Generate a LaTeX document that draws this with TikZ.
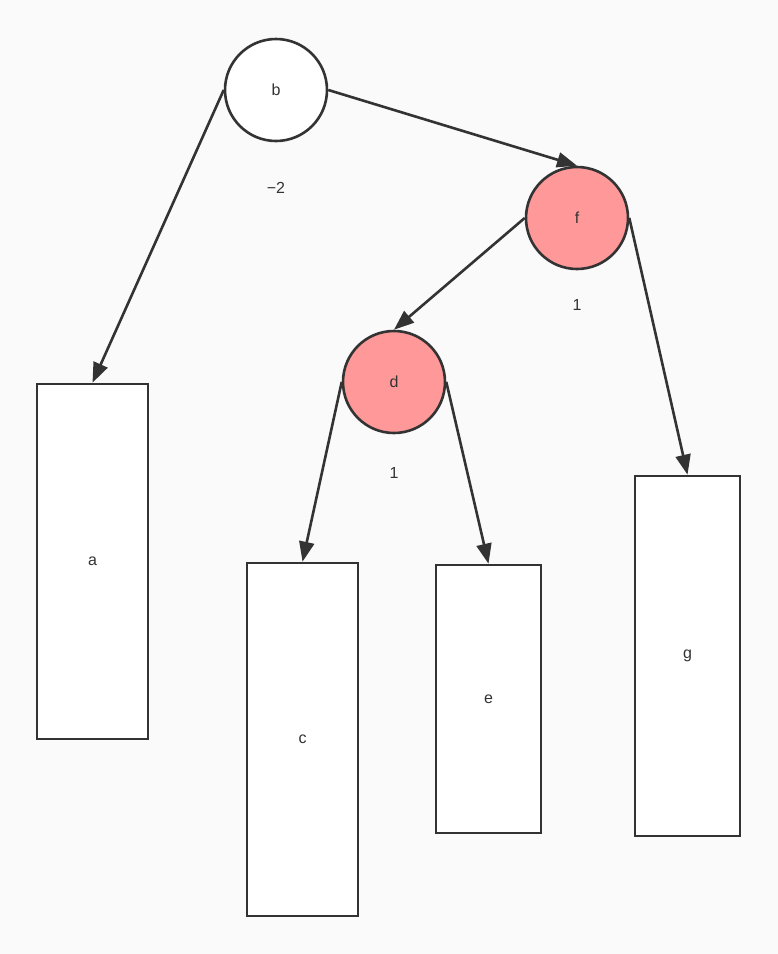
\documentclass[tikz,border=0pt]{standalone}
\usepackage{fontspec}
\setmainfont{Liberation Sans}
\usetikzlibrary{arrows.meta}
\definecolor{rosa}{HTML}{FF9999}
\definecolor{trazo}{HTML}{333333}
\definecolor{fondo}{HTML}{FAFAFA}
\begin{document}
\begin{tikzpicture}[x=1pt, y=-1pt,
    nodo/.style={circle, draw=trazo, fill=white, line width=2.6pt, minimum size=102pt,
        inner sep=0pt, text=trazo, font=\fontsize{16}{18}\selectfont},
    hoja/.style={rectangle, draw=trazo, fill=white, line width=2.6pt, inner sep=0pt,
        text=trazo, font=\fontsize{16}{18}\selectfont},
    peso/.style={text=trazo, font=\fontsize{16}{18}\selectfont},
    flecha/.style={draw=trazo, line width=2.6pt, -{Triangle[length=20pt, width=15pt]}}]

    % Fondo y margenes
    \fill[fondo] (0,0) rectangle (778,954);
    \useasboundingbox (0,0) rectangle (778,954);

    % Nodos del arbol
    \node[nodo] (b) at (276,90) {b};
    \node[nodo, fill=rosa] (f) at (577,218) {f};
    \node[nodo, fill=rosa] (d) at (394,382) {d};

    % Subarboles (hojas)
    \node[hoja, minimum width=111pt, minimum height=355pt] (a) at (92.5,561.5) {a};
    \node[hoja, minimum width=111pt, minimum height=353pt] (c) at (302.5,739.5) {c};
    \node[hoja, minimum width=105pt, minimum height=268pt] (e) at (488.5,699) {e};
    \node[hoja, minimum width=105pt, minimum height=360pt] (g) at (687.5,656) {g};

    % Factores de balance
    \node[peso] (pb) at (276,188) {−2};
    \node[peso] (pf) at (577,305) {1};
    \node[peso] (pd) at (394,473) {1};

    % Aristas
    \draw[flecha] (b.west) -- (a.north);
    \draw[flecha] (b.east) -- (f.north);
    \draw[flecha] (f.west) -- (d.north);
    \draw[flecha] (f.east) -- (g.north);
    \draw[flecha] (d.west) -- (c.north);
    \draw[flecha] (d.east) -- (e.north);

\end{tikzpicture}
\end{document}
